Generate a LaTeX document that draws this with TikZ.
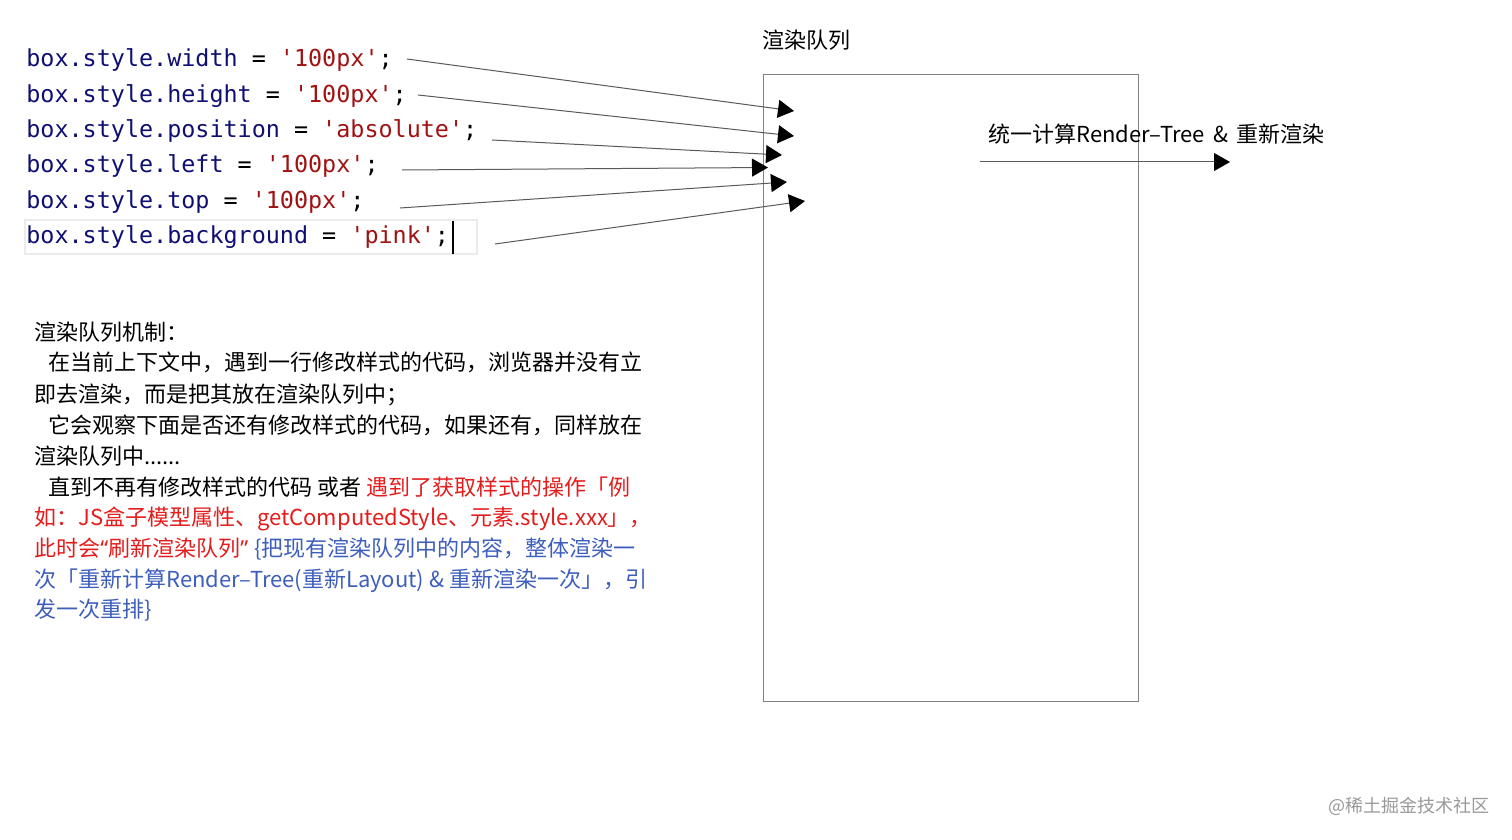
\documentclass[tikz,border=0pt]{standalone}
\usepackage{fontspec}
\setmainfont{Noto Sans CJK SC}
\newfontfamily\codefont{DejaVu Sans Mono}
\newfontfamily\latinfont{Noto Sans}
\usetikzlibrary{arrows.meta}
\definecolor{kwblue}{RGB}{15,15,115}
\definecolor{strred}{RGB}{160,18,18}
\definecolor{txtred}{RGB}{228,28,28}
\definecolor{txtblue}{RGB}{62,94,188}
\definecolor{boxgray}{RGB}{130,130,130}
\newcommand{\kw}[1]{\textcolor{kwblue}{#1}}
\newcommand{\st}[1]{\textcolor{strred}{#1}}
\tikzset{
  code/.style={anchor=base west, inner sep=0pt, font=\codefont\fontsize{11.7pt}{14pt}\selectfont},
  para/.style={anchor=base west, inner sep=0pt, font=\fontsize{11pt}{14pt}\selectfont},
  conn/.style={draw=black!65, line width=0.5pt, -{Triangle[length=8pt,width=9pt,color=black,fill=black]}},
}
\begin{document}
\begin{tikzpicture}[x=0.5pt,y=-0.5pt]
\useasboundingbox (0,0) rectangle (1512,840);
% code lines
\draw[black!8, line width=0.6pt] (25,220) rectangle (477,254);
\node[code] (c1) at (26,67) {\kw{box.style.width} = \st{'100px'};};
\node[code] (c2) at (26,102.5) {\kw{box.style.height} = \st{'100px'};};
\node[code] (c3) at (26,137.8) {\kw{box.style.position} = \st{'absolute'};};
\node[code] (c4) at (26,173) {\kw{box.style.left} = \st{'100px'};};
\node[code] (c5) at (26,208.3) {\kw{box.style.top} = \st{'100px'};};
\node[code] (c6) at (26,243.6) {\kw{box.style.background} = \st{'pink'};};
\draw[line width=1pt] (452.5,221) -- (452.5,254);
% queue box
\node[para] (title) at (762,49) {渲染队列};
\node[draw=boxgray, line width=0.5pt, minimum width=187.5pt, minimum height=313.5pt, inner sep=0pt, anchor=north west] (queue) at (763,74) {};
% arrows into queue
\coordinate (s1) at (407,59);   \coordinate (t1) at (794,111);
\coordinate (s2) at (418,95);   \coordinate (t2) at (794,136);
\coordinate (s3) at (492,140);  \coordinate (t3) at (782,155);
\coordinate (s4) at (402,170);  \coordinate (t4) at (768,167.5);
\coordinate (s5) at (400,208);  \coordinate (t5) at (787,182);
\coordinate (s6) at (495,244);  \coordinate (t6) at (805,201);
\foreach \i in {1,...,6} { \draw[conn] (s\i) -- (t\i); }
% right arrow
\node[para] (lbl) at (988,143) {统一计算Render–Tree \,\&\, 重新渲染};
\coordinate (r1) at (980,162); \coordinate (r2) at (1230,162);
\draw[conn] (r1) -- (r2);
% paragraph
\node[para] (p1) at (34,340) {渲染队列机制：};
\node[para] (p2) at (34,371) {\hspace*{7pt}在当前上下文中，遇到一行修改样式的代码，浏览器并没有立};
\node[para] (p3) at (34,402) {即去渲染，而是把其放在渲染队列中；};
\node[para] (p4) at (34,433) {\hspace*{7pt}它会观察下面是否还有修改样式的代码，如果还有，同样放在};
\node[para] (p5) at (34,464) {渲染队列中......};
\node[para] (p6) at (34,495) {\hspace*{7pt}直到不再有修改样式的代码 或者 \textcolor{txtred}{遇到了获取样式的操作「例}};
\node[para, text=txtred] (p7) at (34,525) {如：JS盒子模型属性、getComputedStyle、元素.style.xxx」，};
\node[para] (p8) at (34,556) {\textcolor{txtred}{此时会{\latinfont“}刷新渲染队列{\latinfont”}}\hspace{3pt}\textcolor{txtblue}{\{把现有渲染队列中的内容，整体渲染一}};
\node[para, text=txtblue] (p9) at (34,587) {次「重新计算Render–Tree(重新Layout) \& 重新渲染一次」，引};
\node[para, text=txtblue] (p10) at (34,617) {发一次重排\}};
% watermark
\node[para, font=\fontsize{9pt}{11pt}\selectfont, text=black!40] (wm) at (1328,812) {@稀土掘金技术社区};
\end{tikzpicture}
\end{document}
